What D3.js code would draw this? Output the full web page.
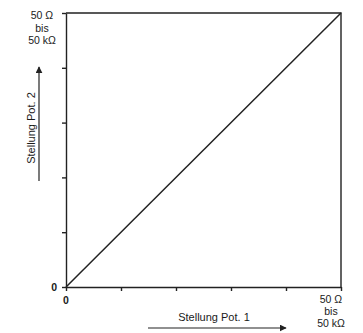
<!DOCTYPE html>
<html>
<head>
<meta charset="utf-8">
<script src="https://cdn.jsdelivr.net/npm/d3@7"></script>
<style>
body { margin: 0; background: #fff; }
text { font-family: "Liberation Sans", Arial, sans-serif; fill: #1a1a1a; }
</style>
</head>
<body>
<script>
// chart values
var tickValues = [0, 1, 2, 3, 4, 5];
var linePoints = [[0, 0], [5, 5]];   // Pot. 1 vs Pot. 2, identical setting
var maxLabel = ["50  Ω", "bis", "50 kΩ"];
var zeroLabel = "0";
var xTitle = "Stellung Pot. 1";
var yTitle = "Stellung Pot. 2";

var w = 363, h = 333;
var svg = d3.select("body").append("svg")
	.attr("width", w)
	.attr("height", h);

var x = d3.scaleLinear().domain([0, 5]).range([66, 341]);
var y = d3.scaleLinear().domain([0, 5]).range([287, 13]);

// frame (top and right)
svg.append("path")
	.attr("d", "M" + x(0) + "," + y(5) + "H" + x(5) + "V" + y(0))
	.attr("fill", "none")
	.attr("stroke", "#222")
	.attr("stroke-width", 1.4);

// axes, ticks only
var xAxis = svg.append("g")
	.attr("transform", "translate(0," + y(0) + ")")
	.call(d3.axisBottom(x).tickValues(tickValues).tickSize(4).tickSizeOuter(0).tickFormat(""));
var yAxis = svg.append("g")
	.attr("transform", "translate(" + x(0) + ",0)")
	.call(d3.axisLeft(y).tickValues(tickValues).tickSize(4).tickSizeOuter(0).tickFormat(""));
svg.selectAll(".domain, .tick line")
	.attr("stroke", "#222")
	.attr("stroke-width", 1.4);

// diagonal
var line = d3.line()
	.x(function(d){ return x(d[0]); })
	.y(function(d){ return y(d[1]); });
svg.append("path")
	.datum(linePoints)
	.attr("d", line)
	.attr("fill", "none")
	.attr("stroke", "#222")
	.attr("stroke-width", 1.5);

// zero labels
svg.append("text")
	.attr("x", x(0) - 9).attr("y", y(0) + 4)
	.attr("text-anchor", "end")
	.attr("font-size", 10.5)
	.attr("font-weight", "bold")
	.text(zeroLabel);
svg.append("text")
	.attr("x", x(0)).attr("y", y(0) + 17)
	.attr("text-anchor", "middle")
	.attr("font-size", 10.5)
	.attr("font-weight", "bold")
	.text(zeroLabel);

// max labels
svg.selectAll(".ymax")
	.data(maxLabel)
	.enter().append("text")
	.attr("class", "ymax")
	.attr("x", 42)
	.attr("y", function(d, i){ return y(5) + 6 + i * 12.5; })
	.attr("text-anchor", "middle")
	.attr("font-size", 10.5)
	.text(function(d){ return d; });
svg.selectAll(".xmax")
	.data(maxLabel)
	.enter().append("text")
	.attr("class", "xmax")
	.attr("x", 331)
	.attr("y", function(d, i){ return y(0) + 16 + i * 12; })
	.attr("text-anchor", "middle")
	.attr("font-size", 10.5)
	.text(function(d){ return d; });

// arrow marker
svg.append("defs").append("marker")
	.attr("id", "arr")
	.attr("viewBox", "0 0 10 10")
	.attr("refX", 9).attr("refY", 5)
	.attr("markerWidth", 7).attr("markerHeight", 7)
	.attr("markerUnits", "userSpaceOnUse")
	.attr("orient", "auto")
	.append("path")
	.attr("d", "M0,0L10,5L0,10Z")
	.attr("fill", "#222");

// x title + arrow
svg.append("text")
	.attr("x", 214).attr("y", 321)
	.attr("text-anchor", "middle")
	.attr("font-size", 11)
	.text(xTitle);
svg.append("line")
	.attr("x1", 148).attr("y1", 328)
	.attr("x2", 286).attr("y2", 328)
	.attr("stroke", "#222").attr("stroke-width", 1.2)
	.attr("marker-end", "url(#arr)");

// y title + arrow
svg.append("text")
	.attr("transform", "translate(35,128) rotate(-90)")
	.attr("text-anchor", "middle")
	.attr("font-size", 11)
	.text(yTitle);
svg.append("line")
	.attr("x1", 39).attr("y1", 181)
	.attr("x2", 39).attr("y2", 67)
	.attr("stroke", "#222").attr("stroke-width", 1.2)
	.attr("marker-end", "url(#arr)");
</script>
</body>
</html>
